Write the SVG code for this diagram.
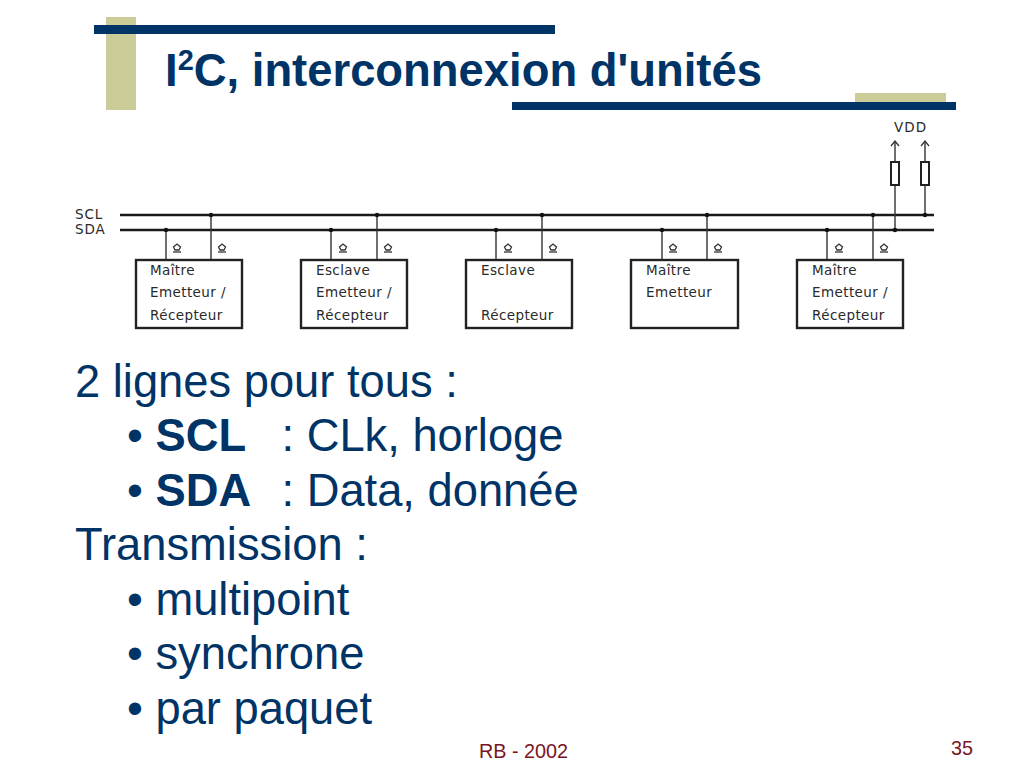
<svg xmlns="http://www.w3.org/2000/svg" width="1024" height="768" viewBox="0 0 1024 768">
<style>
.t{font-family:"Liberation Sans",Arial,sans-serif;fill:#003366}
.r{font-family:"Liberation Sans",Arial,sans-serif;fill:#7a1424}
.b{font-size:45.3px}
.bb{font-size:45.3px;font-weight:bold}
.s{font-family:"DejaVu Sans","Liberation Sans",sans-serif;font-size:13.5px;fill:#2a2a2a;letter-spacing:.4px}
.bus{stroke:#1a1a1a;stroke-width:2.6;fill:none}
.w{stroke:#333;stroke-width:1.4;fill:none}
.box{fill:#fff;stroke:#222;stroke-width:2.4}
.dot{fill:#111}
.pin{fill:none;stroke:#333;stroke-width:1.3}
</style>
<defs>
<g id="sym"><path class="pin" d="M-3.5 -1 L0 -4 L3.5 -1 L2 2 H-2 Z"/><path class="pin" d="M-4 4 H4"/></g>
<marker id="up" markerWidth="12" markerHeight="12" refX="6" refY="6" orient="auto" markerUnits="userSpaceOnUse"><path d="M1 2 L6 6 L1 10" fill="none" stroke="#333" stroke-width="1.3"/></marker>
</defs>
<rect width="1024" height="768" fill="#fff"/>
<g id="frame">
<rect x="106" y="17" width="30" height="93" fill="#cccc99"/>
<rect x="855" y="93" width="91" height="9" fill="#cccc99"/>
<rect x="94" y="25" width="461" height="9" fill="#003366"/>
<rect x="512" y="102" width="444" height="8" fill="#003366"/>
</g>
<text id="title" class="t" x="165" y="86" font-size="45.4" font-weight="bold">I<tspan font-size="29" dy="-16">2</tspan><tspan dy="16">C, interconnexion d'unités</tspan></text>
<g id="connectors">
<path class="bus" d="M120 215H934M120 230H934"/>
<path class="w" d="M166 230V260M211 215V260M331 230V260M377 215V260M496 230V260M542 215V260M662 230V260M707 215V260M827 230V260M873 215V260"/>
<path class="w" d="M895 230V185"/><path class="w" d="M925 215V185"/>
<path class="w" d="M895 162V141" marker-end="url(#up)"/><path class="w" d="M925 162V141" marker-end="url(#up)"/>
<g class="dot"><circle cx="166" cy="230" r="2.2"/><circle cx="211" cy="215" r="2.2"/><circle cx="331" cy="230" r="2.2"/><circle cx="377" cy="215" r="2.2"/><circle cx="496" cy="230" r="2.2"/><circle cx="542" cy="215" r="2.2"/><circle cx="662" cy="230" r="2.2"/><circle cx="707" cy="215" r="2.2"/><circle cx="827" cy="230" r="2.2"/><circle cx="873" cy="215" r="2.2"/><circle cx="895" cy="230" r="2.2"/><circle cx="925" cy="215" r="2.2"/></g>
</g>
<g id="labels"><text class="s" x="75" y="219" style="letter-spacing:.9px">SCL</text><text class="s" x="75" y="234" style="letter-spacing:.9px">SDA</text><text class="s" x="894" y="132" style="letter-spacing:1px">VDD</text></g>
<g id="R1"><rect x="891" y="162" width="8" height="23" fill="#fff" stroke="#222" stroke-width="2"/></g>
<g id="R2"><rect x="921" y="162" width="8" height="23" fill="#fff" stroke="#222" stroke-width="2"/></g>
<g id="n1"><rect class="box" x="136" y="260" width="106" height="68"/><use href="#sym" x="177" y="248"/><use href="#sym" x="222" y="248"/><text class="s" x="150" y="275">Maître</text><text class="s" x="150" y="297">Emetteur /</text><text class="s" x="150" y="320">Récepteur</text></g>
<g id="n2"><rect class="box" x="301" y="260" width="106" height="68"/><use href="#sym" x="343" y="248"/><use href="#sym" x="388" y="248"/><text class="s" x="316" y="275">Esclave</text><text class="s" x="316" y="297">Emetteur /</text><text class="s" x="316" y="320">Récepteur</text></g>
<g id="n3"><rect class="box" x="466" y="260" width="106" height="68"/><use href="#sym" x="508" y="248"/><use href="#sym" x="553" y="248"/><text class="s" x="481" y="275">Esclave</text><text class="s" x="481" y="320">Récepteur</text></g>
<g id="n4"><rect class="box" x="631" y="260" width="107" height="68"/><use href="#sym" x="673" y="248"/><use href="#sym" x="718" y="248"/><text class="s" x="646" y="275">Maître</text><text class="s" x="646" y="297">Emetteur</text></g>
<g id="n5"><rect class="box" x="797" y="260" width="106" height="68"/><use href="#sym" x="839" y="248"/><use href="#sym" x="884" y="248"/><text class="s" x="812" y="275">Maître</text><text class="s" x="812" y="297">Emetteur /</text><text class="s" x="812" y="320">Récepteur</text></g>
<g id="body">
<text class="t b" x="75" y="396.5">2 lignes pour tous :</text>
<text class="t b" x="127" y="450.5">• <tspan class="bb">SCL</tspan></text><text class="t b" x="281.5" y="450.5">: CLk, horloge</text>
<text class="t b" x="127" y="505.5">• <tspan class="bb">SDA</tspan></text><text class="t b" x="281.5" y="505.5">: Data, donnée</text>
<text class="t b" x="75" y="559.5">Transmission :</text>
<text class="t b" x="127" y="614.5">• multipoint</text>
<text class="t b" x="127" y="668.5">• synchrone</text>
<text class="t b" x="127" y="723.5">• par paquet</text>
</g>
<text id="footer" class="r" x="479" y="758" font-size="19.8">RB - 2002</text>
<text id="page" class="r" x="951" y="755" font-size="19.8">35</text>
</svg>
